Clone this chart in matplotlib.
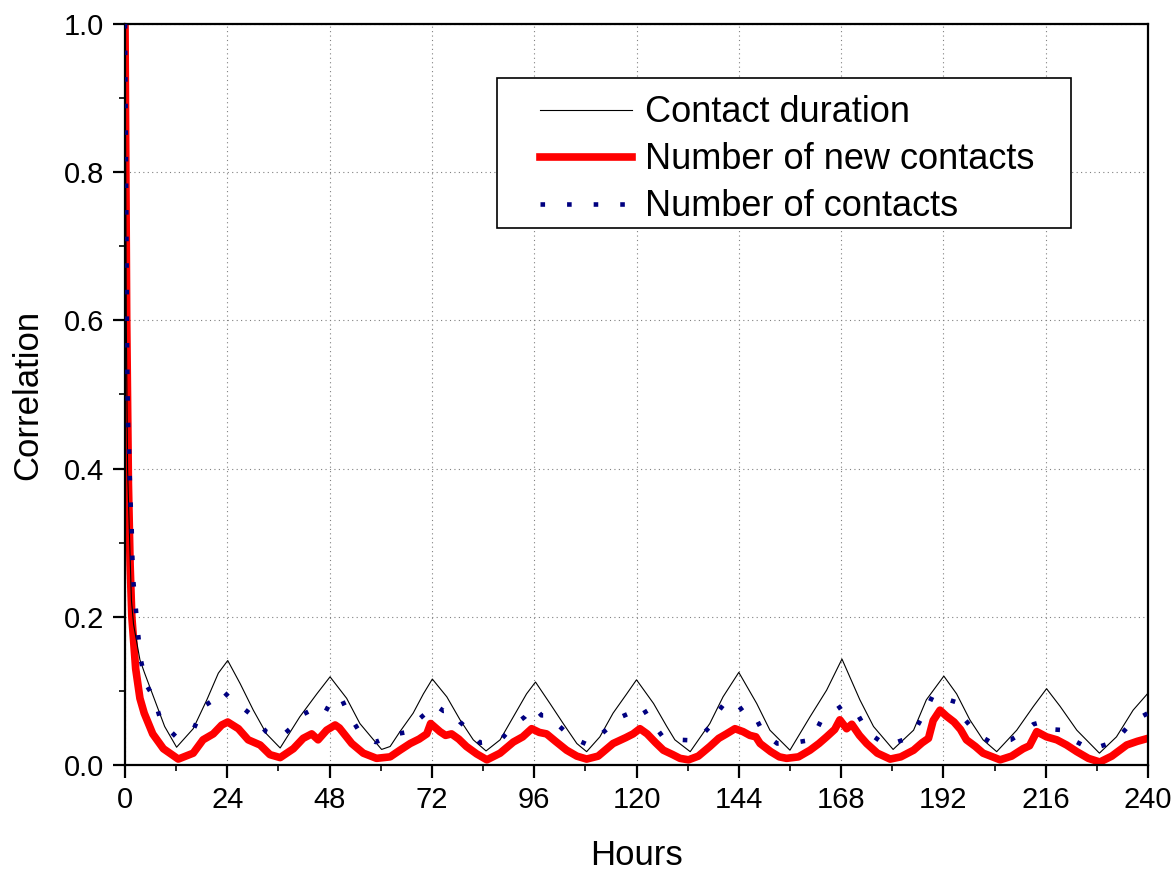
import matplotlib
matplotlib.use("Agg")
import matplotlib.pyplot as plt
from matplotlib.ticker import MultipleLocator
from matplotlib.patches import Rectangle

plt.rcParams['font.family'] = ['Liberation Sans', 'DejaVu Sans']

# Contact duration (black thin line)
dur_x = [0, 0.3, 0.6, 1.1, 1.5, 2.0, 2.65, 3.5, 4.6, 6.95, 9.3, 12.1,
         16, 19.2, 21.9, 24.1, 27, 30.1, 33.2, 36.4,
         41, 45, 48.1, 52, 55.1, 60.2,
         62.2, 64.5, 67.6, 70, 72.1, 75.5, 78.6, 81.7, 84.7,
         88, 91.1, 94.2, 96.3, 99.7, 102.8, 106, 108.3,
         111.4, 114.5, 117.7, 120, 124, 127.1, 129, 132.6,
         137.2, 140.3, 144, 148.2, 151.3, 156,
         160.7, 164.6, 168.2, 172.4, 175.6, 180.2,
         185, 188, 192.1, 195.1, 198.2, 201.3, 204.5,
         209.2, 213.1, 216.2, 219.4, 223.3, 228.6,
         232.6, 236.5, 240]
dur_y = [1.0, 0.6, 0.4, 0.3, 0.223, 0.19, 0.169, 0.142, 0.124, 0.088, 0.052, 0.024,
         0.049, 0.088, 0.124, 0.141, 0.110, 0.074, 0.042, 0.023,
         0.065, 0.096, 0.119, 0.090, 0.056, 0.021,
         0.025, 0.045, 0.070, 0.096, 0.116, 0.092, 0.061, 0.034, 0.019,
         0.034, 0.065, 0.096, 0.112, 0.083, 0.056, 0.029, 0.018,
         0.038, 0.070, 0.096, 0.115, 0.083, 0.052, 0.034, 0.018,
         0.056, 0.092, 0.125, 0.083, 0.047, 0.020,
         0.065, 0.101, 0.143, 0.088, 0.052, 0.021,
         0.047, 0.088, 0.120, 0.096, 0.061, 0.034, 0.018,
         0.047, 0.079, 0.103, 0.079, 0.047, 0.016,
         0.038, 0.074, 0.097]

# Number of new contacts (thick red line)
new_x = [0, 0.4, 0.8, 1.2, 1.6, 2.5, 3.5, 4.5, 6.5, 9, 12.5,
         16, 18.3, 20.7, 22.7, 24.1, 26.6, 28.9, 31.7, 34, 36.4,
         39.5, 41.8, 43.8, 45.3, 47.3, 49.3, 50.3, 53.2, 55.9, 59,
         62.2, 64.5, 66.9, 69, 70.8, 71.7, 73.9, 75.2, 76.6, 78.3, 80.1, 82.5, 84.9,
         88, 91.1, 93.3, 95.4, 97.2, 98.9, 101, 103.6, 106, 108.3,
         111, 114.5, 117.5, 119.2, 120.8, 122.5, 124.5, 126.3, 128.5, 130.2, 132.2,
         134.5, 137.2, 139.3, 141.1, 143.1, 145, 146.6, 148, 149, 151.5, 153.5, 155.2,
         158, 160.7, 162.8, 164.6, 166.5, 167.7, 169.3, 170.5, 172.3, 174, 176.5, 179.5,
         182, 185, 187, 188.5, 189.6, 191.2, 192.7, 194.5, 196, 197.4, 199.5, 201.3, 205.3,
         208, 210.7, 212.2, 213.9, 216.2, 218.6, 220.9, 223.3, 226, 228.7,
         231.5, 235, 237.5, 240]
new_y = [1.0, 0.6, 0.38, 0.27, 0.2, 0.13, 0.09, 0.07, 0.042, 0.022, 0.008,
         0.016, 0.034, 0.042, 0.054, 0.058, 0.049, 0.034, 0.027, 0.014, 0.010,
         0.022, 0.036, 0.042, 0.034, 0.047, 0.054, 0.050, 0.029, 0.016, 0.009,
         0.011, 0.020, 0.029, 0.035, 0.042, 0.056, 0.045, 0.040, 0.042, 0.035, 0.025, 0.015, 0.007,
         0.016, 0.031, 0.038, 0.049, 0.044, 0.042, 0.032, 0.020, 0.012, 0.008,
         0.012, 0.029, 0.037, 0.042, 0.049, 0.042, 0.030, 0.020, 0.014, 0.009, 0.007,
         0.012, 0.025, 0.036, 0.042, 0.049, 0.045, 0.040, 0.038, 0.029, 0.018, 0.011, 0.009,
         0.011, 0.020, 0.029, 0.038, 0.048, 0.061, 0.049, 0.055, 0.040, 0.029, 0.016, 0.008,
         0.011, 0.020, 0.030, 0.036, 0.060, 0.074, 0.066, 0.058, 0.048, 0.034, 0.025, 0.016, 0.007,
         0.012, 0.022, 0.026, 0.045, 0.038, 0.034, 0.027, 0.018, 0.009, 0.004,
         0.012, 0.027, 0.032, 0.036]

# Number of contacts (blue dotted line)
num_x = [0, 0.3, 0.5, 0.7, 0.94, 1.1, 1.3, 1.56, 1.7, 1.95, 2.5, 3.05, 3.7, 5, 6.7, 8.5, 12,
         16, 18.4, 20.3, 22.6, 24.5, 26.8, 29.8, 33.1, 36.4,
         39.5, 41, 43, 44.4, 46.5, 48.5, 50.6, 52.4, 54.9, 58.8,
         63, 65.7, 68, 70.8, 72.5, 74.7, 76.6, 78.6, 80.5, 83.3,
         88, 91.1, 93.8, 95.8, 97.7, 99.7, 101.6, 104.8, 108.7,
         113, 115.3, 116.4, 119.2, 121.2, 123.2, 126.3, 130.2,
         134.1, 137.1, 139.4, 141.3, 143.7, 145.4, 147.5, 149.7, 153,
         156.9, 161.1, 163.4, 165.7, 168.2, 170.2, 172, 174.3, 178.7,
         182.6, 185.7, 188, 189.7, 191.6, 193.2, 194.9, 196.8, 199.9, 203,
         207.8, 210.7, 213.1, 215.6, 217.8, 220.5, 223.3, 226.6,
         231.9, 233.5, 236.2, 240]
num_y = [1.0, 0.75, 0.55, 0.463, 0.427, 0.391, 0.355, 0.32, 0.284, 0.248, 0.213, 0.178, 0.142,
         0.108, 0.092, 0.058, 0.038,
         0.047, 0.079, 0.086, 0.102, 0.091, 0.081, 0.067, 0.045, 0.037,
         0.053, 0.066, 0.072, 0.072, 0.066, 0.088, 0.092, 0.069, 0.046, 0.031,
         0.041, 0.044, 0.057, 0.071, 0.082, 0.073, 0.074, 0.058, 0.048, 0.030,
         0.033, 0.053, 0.065, 0.079, 0.067, 0.067, 0.054, 0.037, 0.027,
         0.048, 0.063, 0.065, 0.072, 0.080, 0.061, 0.037, 0.034,
         0.033, 0.051, 0.074, 0.088, 0.082, 0.069, 0.069, 0.044, 0.029,
         0.030, 0.034, 0.061, 0.070, 0.080, 0.069, 0.067, 0.044, 0.026,
         0.034, 0.051, 0.075, 0.096, 0.093, 0.088, 0.085, 0.063, 0.042, 0.031,
         0.034, 0.044, 0.055, 0.059, 0.048, 0.047, 0.031, 0.021,
         0.031, 0.040, 0.058, 0.070]

fig = plt.figure(figsize=(11.76, 8.75), dpi=100)
ax = fig.add_axes([0.1063, 0.1257, 0.8699, 0.8469])

ax.plot(dur_x, dur_y, color='black', linewidth=0.8, label='Contact duration', zorder=3)
ax.plot(new_x, new_y, color='#ff0000', linewidth=5.5, label='Number of new contacts',
        solid_joinstyle='round', zorder=2)
ax.plot(num_x, num_y, color='#000080', linewidth=3.3, linestyle=(0, (1.0, 4.8)),
        dash_capstyle='butt', label='Number of contacts', zorder=4)

ax.set_xlim(0, 240)
ax.set_ylim(0, 1.0)
ax.xaxis.set_major_locator(MultipleLocator(24))
ax.xaxis.set_minor_locator(MultipleLocator(12))
ax.yaxis.set_major_locator(MultipleLocator(0.2))
ax.yaxis.set_minor_locator(MultipleLocator(0.1))
ax.yaxis.set_major_formatter(plt.FormatStrFormatter('%.1f'))

ax.grid(True, which='major', linestyle=(0, (1, 3)), color='gray', linewidth=0.8)
for s in ax.spines.values():
    s.set_linewidth(1.6)
ax.tick_params(which='major', direction='out', length=9, width=1.6, labelsize=21, pad=6)
ax.tick_params(which='minor', direction='out', length=4.5, width=1.2)

ax.set_xlabel('Hours', fontsize=25, labelpad=18)
ax.set_ylabel('Correlation', fontsize=25, labelpad=14)

# legend box drawn separately so the side padding can be wider than top/bottom
box = Rectangle((0.3636, 0.7247), 0.5614, 0.2023, transform=ax.transAxes,
                facecolor='white', edgecolor='black', linewidth=1.2, zorder=5)
ax.add_patch(box)
leg = ax.legend(loc='upper left', bbox_to_anchor=(0.4057, 0.9035), borderaxespad=0,
                borderpad=0, frameon=False, fontsize=26, handlelength=2.55,
                labelspacing=0.33, handletextpad=0.36)
leg.set_zorder(6)

fig.savefig('out.png', dpi=100)
